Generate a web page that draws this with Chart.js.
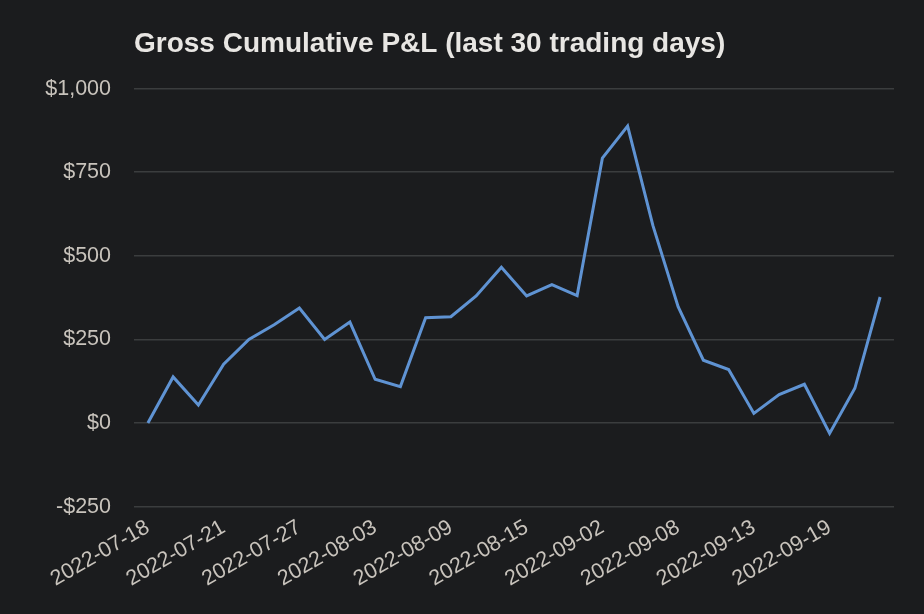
<!DOCTYPE html>
<html>
<head>
<meta charset="utf-8">
<script src="https://cdn.jsdelivr.net/npm/chart.js@4"></script>
<style>
  html, body { margin: 0; padding: 0; background: #1b1c1e; }
  #wrap { width: 924px; height: 614px; }
</style>
</head>
<body>
<div id="wrap"><canvas id="c" width="924" height="614"></canvas></div>
<script>
const chartTitle = "Gross Cumulative P&L (last 30 trading days)";
const dates = [
  "2022-07-18","2022-07-19","2022-07-20","2022-07-21","2022-07-22","2022-07-25",
  "2022-07-27","2022-07-29","2022-08-01","2022-08-03","2022-08-04","2022-08-08",
  "2022-08-09","2022-08-10","2022-08-12","2022-08-15","2022-08-16","2022-08-31",
  "2022-09-02","2022-09-06","2022-09-07","2022-09-08","2022-09-09","2022-09-12",
  "2022-09-13","2022-09-14","2022-09-16","2022-09-19","2022-09-20","2022-09-21"
];
const pnl = [
  0, 138, 54, 176, 250, 294, 344, 250, 302, 131,
  109, 315, 318, 380, 466, 380, 414, 381, 792, 888,
  591, 348, 188, 160, 29, 85, 116, -31, 104, 377
];
const yTicks = [-250, 0, 250, 500, 750, 1000];
const xTickIdx = [0, 3, 6, 9, 12, 15, 18, 21, 24, 27];

const fmt = v => (v < 0 ? "-$" : "$") + Math.abs(v).toLocaleString("en-US");

new Chart(document.getElementById("c"), {
  type: "line",
  data: {
    datasets: [{
      data: pnl.map((v, i) => ({ x: i, y: v })),
      borderColor: "#5f93d3",
      borderWidth: 3,
      pointRadius: 0,
      tension: 0,
      fill: false
    }]
  },
  options: {
    responsive: false,
    animation: false,
    devicePixelRatio: 1,
    layout: { padding: { left: 0, right: 30, top: 0, bottom: 0 } },
    plugins: {
      legend: { display: false },
      tooltip: { enabled: false },
      title: {
        display: true,
        text: chartTitle,
        align: "start",
        fullSize: false,
        color: "#e8e6e3",
        font: { family: "'Liberation Sans', Arial, sans-serif", size: 28, weight: "bold" },
        padding: { top: 27, bottom: 28 }
      }
    },
    scales: {
      x: {
        type: "linear",
        min: -0.55,
        max: 29.55,
        border: { display: false },
        grid: { display: false, drawTicks: false },
        afterBuildTicks: s => { s.ticks = xTickIdx.map(v => ({ value: v })); },
        afterFit: s => { s.height = 107.3; },
        ticks: {
          autoSkip: false,
          minRotation: 30,
          maxRotation: 30,
          padding: 8,
          color: "#c8c3bc",
          font: { family: "'Liberation Sans', Arial, sans-serif", size: 21.5 },
          callback: v => dates[v]
        }
      },
      y: {
        min: -250,
        max: 1000,
        border: { display: false },
        grid: { color: "#3b3d3e", lineWidth: 1.5, drawTicks: false },
        afterBuildTicks: s => { s.ticks = yTicks.map(v => ({ value: v })); },
        afterFit: s => { s.width = 134; },
        ticks: {
          padding: 23,
          color: "#c8c3bc",
          font: { family: "'Liberation Sans', Arial, sans-serif", size: 21.5 },
          callback: v => fmt(v)
        }
      }
    }
  },
  plugins: [{
    id: "bg",
    beforeDraw: c => {
      const ctx = c.ctx;
      ctx.save();
      ctx.fillStyle = "#1b1c1e";
      ctx.fillRect(0, 0, c.width, c.height);
      ctx.restore();
    }
  }]
});
</script>
</body>
</html>
